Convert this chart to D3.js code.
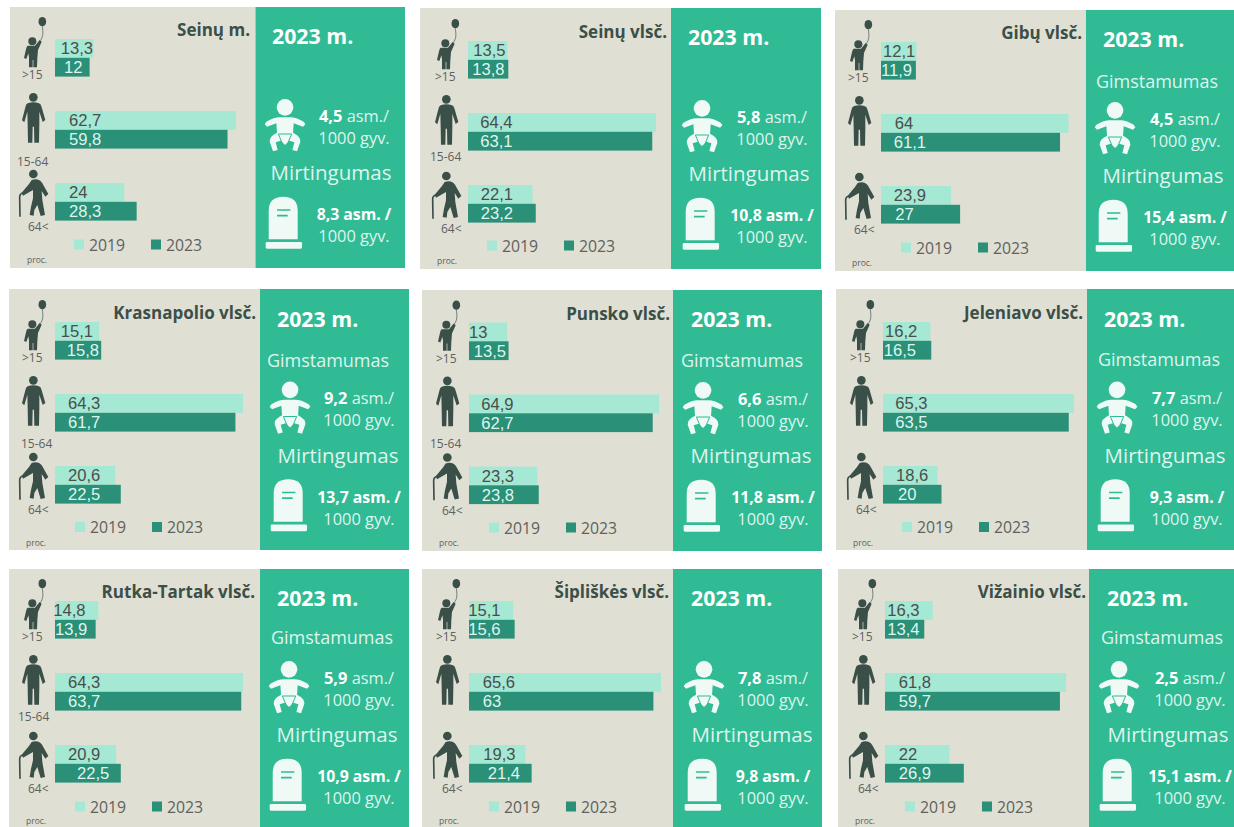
<!DOCTYPE html>
<html lang="lt">
<head>
<meta charset="utf-8">
<title>Seinų savivaldybė</title>
<script src="https://cdn.jsdelivr.net/npm/d3@7"></script>
<style>
html,body{margin:0;padding:0;background:#fff;overflow:hidden}
svg{display:block}
text{font-family:"Open Sans",sans-serif}
text.barLabel{font-family:"Liberation Sans",sans-serif}
</style>
</head>
<body>
<svg id="chart" width="1234" height="827"></svg>
<script>
// ---------- data ----------
const panelNames = ["Seinų m.","Seinų vlsč.","Gibų vlsč.","Krasnapolio vlsč.","Punsko vlsč.","Jeleniavo vlsč.","Rutka-Tartak vlsč.","Šipliškės vlsč.","Vižainio vlsč."];
const ageGroups = [">15","15-64","64<"];
const years = ["2019","2023"];
const values2019 = [[13.3,62.7,24],[13.5,64.4,22.1],[12.1,64,23.9],[15.1,64.3,20.6],[13,64.9,23.3],[16.2,65.3,18.6],[14.8,64.3,20.9],[15.1,65.6,19.3],[16.3,61.8,22]];
const values2023 = [[12,59.8,28.3],[13.8,63.1,23.2],[11.9,61.1,27],[15.8,61.7,22.5],[13.5,62.7,23.8],[16.5,63.5,20],[13.9,63.7,22.5],[15.6,63,21.4],[13.4,59.7,26.9]];
const birthRates = [4.5,5.8,4.5,9.2,6.6,7.7,5.9,7.8,2.5];
const deathRates = [8.3,10.8,15.4,13.7,11.8,9.3,10.9,9.8,15.1];
const hasBirthHeading = [false,false,true,true,true,true,true,false,true];
const hasMiddleAgeLabel = [true,true,false,true,true,false,true,false,false];
const yearHeading = "2023 m.";
const birthHeading = "Gimstamumas";
const deathHeading = "Mirtingumas";
const unitNote = "proc.";

// ---------- layout (one row per panel, no data values) ----------
const frames = [
 {l:10, t:7,  s:255.5,r:405, b:268,vy:7,    barX:55, unit:2.885,barTop:39,  titleR:250, yearX:272, gimCx:null,gimY:0, babyCx:285, textCx:354, mirCx:331, swX:74, midX:17, midY:166},
 {l:420,t:8,  s:671,  r:821, b:269,vy:8,    barX:468,unit:2.92, barTop:41,  titleR:667, yearX:688, gimCx:null,gimY:0, babyCx:702, textCx:772, mirCx:749, swX:487,midX:430,midY:161},
 {l:835,t:10, s:1086, r:1234,b:271,vy:10,   barX:881,unit:2.93, barTop:42,  titleR:1082,yearX:1103,gimCx:1157,gimY:88, babyCx:1115,textCx:1185,mirCx:1163,swX:901,midX:0,  midY:0},
 {l:9,  t:289,s:260,  r:409, b:550,vy:289.5,barX:55, unit:2.924,barTop:322, titleR:256, yearX:277, gimCx:328, gimY:367,babyCx:290, textCx:359, mirCx:338, swX:75, midX:21, midY:448},
 {l:422,t:290,s:673,  r:822, b:551,vy:290,  barX:469,unit:2.93, barTop:322.5,titleR:670,yearX:691, gimCx:742, gimY:367,babyCx:703, textCx:773, mirCx:751, swX:489,midX:430,midY:448},
 {l:836,t:289,s:1087, r:1234,b:550,vy:289.5,barX:883,unit:2.925,barTop:322, titleR:1083,yearX:1104,gimCx:1159,gimY:366,babyCx:1117,textCx:1187,mirCx:1165,swX:902,midX:0,  midY:0},
 {l:9,  t:569,s:260,  r:409, b:827,vy:569,  barX:55, unit:2.924,barTop:601, titleR:255, yearX:277, gimCx:332, gimY:644,babyCx:289, textCx:359, mirCx:337, swX:75, midX:18, midY:721},
 {l:422,t:569,s:673,  r:822, b:827,vy:569,  barX:469,unit:2.927,barTop:601, titleR:669, yearX:691, gimCx:null,gimY:0, babyCx:704, textCx:773, mirCx:752, swX:489,midX:0,  midY:0},
 {l:838,t:569,s:1089, r:1234,b:827,vy:569,  barX:885,unit:2.93, barTop:601, titleR:1086,yearX:1107,gimCx:1162,gimY:644,babyCx:1119,textCx:1190,mirCx:1168,swX:905,midX:0,  midY:0}
];
// Where each bar's label begins, measured from the bar's left end: [2019, 2023] per age group.
const labelInsets = [
 [[5.7,9],[14,14],[14,14]],
 [[5.3,4.3],[12.3,12.3],[12.7,12.7]],
 [[2,0],[13.7,12.7],[12.7,14.3]],
 [[5.7,11.7],[13,13],[13,13]],
 [[0,4.7],[12.3,12.3],[12.7,12.7]],
 [[2,0.7],[12.3,12.3],[13,15]],
 [[-1.7,0],[13,13],[13,22]],
 [[-0.7,-0.7],[13.7,13.7],[14.3,18.7]],
 [[2.3,2.3],[13.7,13.7],[13.7,13.7]]
];
const colors = {sand:"#e0dfd3",green:"#30bb94",light:"#a5e8d4",dark:"#2a9078",ink:"#3b4f49",label:"#4a4f4c",gray:"#5e615e",pale:"#eff9f6",paleText:"#dff5ee"};
const barH = 18.8, rowGap = 72, domainMax = 70;

// ---------- pictograms, in a 3x grid ----------
const kidBody = "M38 107 L60 107 L74 90 L80 95 L69 120 L67 145 L66 172 L55 172 L55 150 L53 150 L53 172 L42 172 L42 142 L40 130 L34 147 L27 144 L33 118 Q35 108 38 107 Z";
const adultBody = "M38 280 Q55 274 72 280 Q78 282 80 292 L91 330 L83 336 L73 305 L73 345 L72 398 L58 398 L57 350 L53 350 L52 398 L39 398 L38 345 L37 305 L28 337 L21 331 L31 292 Q33 282 38 280 Z";
const elderBody = "M50 510 Q72 503 82 520 L100 552 L91 560 L80 543 L82 570 L90 615 L77 618 L67 585 L58 600 L56 617 L44 615 L48 590 L54 565 L54 540 L24 557 L20 548 L42 522 Z";
const babyBody = "M21 103 L26 95 Q50 82 65 82 L99 82 Q114 82 138 95 L143 103 L136 110 L108 100 L106 128 Q130 140 128 155 L118 184 L104 180 L110 157 L95 152 L82 165 L69 152 L54 157 L60 180 L46 184 L36 155 Q34 140 58 128 L56 100 L28 110 Z";
const tombBody = "M33 448 L33 362 Q33 320 77 320 Q120 320 120 362 L120 448 Z";

function drawPeople(g, x, y){
  const p = g.append("g").attr("transform",`translate(${x},${y}) scale(${1/3})`).attr("fill",colors.ink);
  p.append("ellipse").attr("cx",82).attr("cy",35).attr("rx",11.5).attr("ry",14);
  p.append("path").attr("d","M82 49 C84 65 86 78 76 92").attr("fill","none").attr("stroke",colors.ink).attr("stroke-width",2);
  p.append("circle").attr("cx",52).attr("cy",94).attr("r",12);
  p.append("path").attr("d",kidBody);
  p.append("circle").attr("cx",55).attr("cy",262).attr("r",13);
  p.append("path").attr("d",adultBody);
  p.append("circle").attr("cx",55).attr("cy",492).attr("r",13);
  p.append("path").attr("d",elderBody);
  p.append("path").attr("d","M15 620 L14 562 Q14 550 25 549").attr("fill","none").attr("stroke",colors.ink).attr("stroke-width",5);
}
function drawRates(g, x, y){
  const p = g.append("g").attr("transform",`translate(${x},${y}) scale(${1/3})`).attr("fill",colors.pale);
  p.append("circle").attr("cx",82).attr("cy",52).attr("r",25);
  p.append("path").attr("d",babyBody);
  p.append("path").attr("d","M62 132 L73 158 M102 132 L91 158 M62 132 L102 132").attr("fill","none").attr("stroke",colors.green).attr("stroke-width",3);
  p.append("path").attr("d",tombBody);
  p.append("rect").attr("x",24).attr("y",456).attr("width",109).attr("height",20).attr("rx",4);
  p.append("path").attr("d","M58 360 L98 360 M58 377 L90 377").attr("stroke",colors.green).attr("stroke-width",5);
}

// ---------- drawing ----------
const fmt = d3.formatLocale({decimal:",",thousands:" ",grouping:[3],currency:["",""]}).format(".1~f");
const svg = d3.select("#chart");

frames.forEach((f,i)=>{
  const g = svg.append("g").attr("class","panel");
  g.append("rect").attr("x",f.l).attr("y",f.t).attr("width",f.s-f.l).attr("height",f.b-f.t).attr("fill",colors.sand);
  g.append("rect").attr("x",f.s).attr("y",f.t).attr("width",f.r-f.s).attr("height",f.b-f.t).attr("fill",colors.green);

  const x = d3.scaleLinear().domain([0,domainMax]).range([f.barX,f.barX+f.unit*domainMax]);
  const y0 = d3.scalePoint().domain(ageGroups).range([f.barTop,f.barTop+2*rowGap]);
  const y1 = d3.scaleBand().domain(years).range([0,2*barH]);
  const rows = ageGroups.map((a,k)=>({age:a,k,"2019":values2019[i][k],"2023":values2023[i][k]}));

  // bars and their labels
  years.forEach((yr,yi)=>{
    g.append("g").selectAll("rect").data(rows).join("rect")
      .attr("x",x(0)).attr("y",d=>y0(d.age)+y1(yr))
      .attr("width",d=>x(d[yr])-x(0)).attr("height",y1.bandwidth())
      .attr("fill",yi?colors.dark:colors.light);
  });
  years.forEach((yr,yi)=>{
    g.append("g").selectAll("text").data(rows).join("text")
      .attr("class","barLabel")
      .attr("x",d=>x(0)+labelInsets[i][d.k][yi]).attr("y",d=>y0(d.age)+y1(yr)+15.4)
      .attr("font-size",16.6).attr("fill",yi?colors.paleText:colors.label)
      .text(d=>fmt(d[yr]));
  });

  // title and age labels
  g.append("text").attr("x",f.titleR).attr("y",f.barTop-3).attr("text-anchor","end")
    .attr("font-size",17).attr("font-weight",700).attr("fill",colors.ink).text(panelNames[i]);
  drawPeople(g,f.barX-40,f.barTop-29);
  const ageText = (s,ax,ay)=>g.append("text").attr("x",ax).attr("y",ay).attr("font-size",12).attr("fill",colors.gray).text(s);
  ageText(ageGroups[0],f.barX-33,f.barTop+40);
  if(hasMiddleAgeLabel[i]) ageText(ageGroups[1],f.midX,f.midY);
  ageText(ageGroups[2],f.barX-27,f.barTop+192);

  // legend
  const ly = f.vy+243.5;
  years.forEach((yr,yi)=>{
    const lx = f.swX+yi*77;
    g.append("rect").attr("x",lx).attr("y",ly-11).attr("width",10).attr("height",10).attr("fill",yi?colors.dark:colors.light);
    g.append("text").attr("x",lx+15).attr("y",ly).attr("font-size",15.8).attr("fill",colors.gray).text(yr);
  });
  g.append("text").attr("x",f.l+17).attr("y",Math.min(f.vy+256,824)).attr("font-size",8.5).attr("fill",colors.gray).text(unitNote);

  // right column
  g.append("text").attr("x",f.yearX).attr("y",f.vy+37).attr("font-size",21.3).attr("font-weight",700).attr("fill","#fff").text(yearHeading);
  if(hasBirthHeading[i]) g.append("text").attr("x",f.gimCx).attr("y",f.gimY).attr("text-anchor","middle").attr("font-size",18).attr("fill",colors.paleText).text(birthHeading);
  g.append("text").attr("x",f.mirCx).attr("y",f.vy+173).attr("text-anchor","middle").attr("font-size",20.5).attr("fill",colors.paleText).text(deathHeading);
  drawRates(g,f.babyCx-27.3,f.vy+83);

  const rateText = (val,suffix,bold,yy,size)=>{
    const t = g.append("text").attr("x",f.textCx).attr("y",yy).attr("text-anchor","middle").attr("font-size",size).attr("fill",colors.paleText);
    t.append("tspan").attr("font-weight",700).attr("fill","#fff").text(fmt(val)+(bold?suffix:""));
    if(!bold) t.append("tspan").text(suffix);
  };
  rateText(birthRates[i]," asm./",false,f.vy+114.5,16.4);
  g.append("text").attr("x",f.textCx).attr("y",f.vy+136.5).attr("text-anchor","middle").attr("font-size",16.4).attr("fill",colors.paleText).text("1000 gyv.");
  rateText(deathRates[i]," asm. /",true,f.vy+213,15.8);
  g.append("text").attr("x",f.textCx).attr("y",f.vy+235).attr("text-anchor","middle").attr("font-size",16.4).attr("fill",colors.paleText).text("1000 gyv.");
});
</script>
</body>
</html>
